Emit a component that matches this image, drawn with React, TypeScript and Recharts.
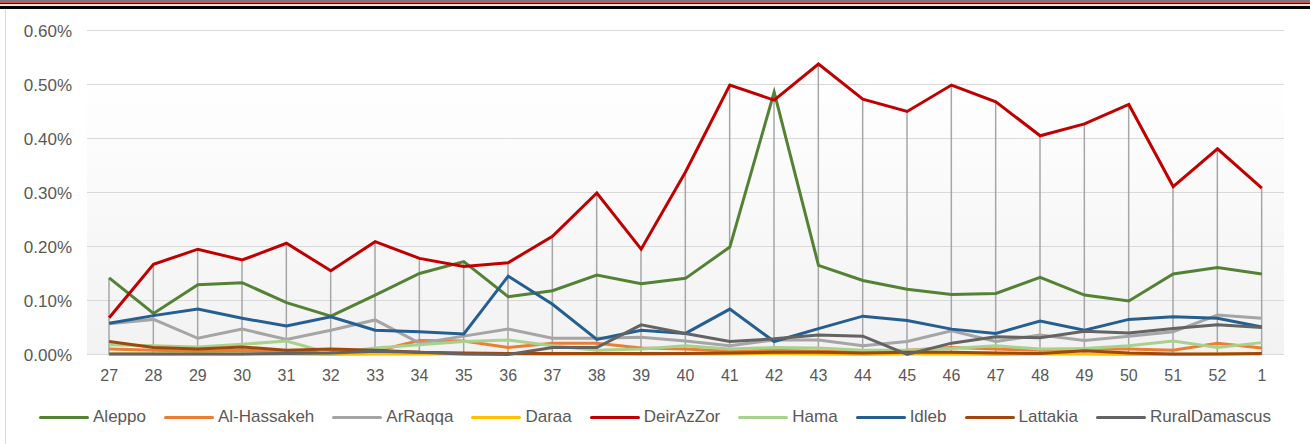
import React from 'react';
import { ComposedChart, Line, Bar, XAxis, YAxis, CartesianGrid } from 'recharts';

const weeks = ['27', '28', '29', '30', '31', '32', '33', '34', '35', '36', '37', '38', '39', '40', '41', '42', '43', '44', '45', '46', '47', '48', '49', '50', '51', '52', '1'];

// values are in percent (0.142 => 0.142%)
const aleppo = [0.142, 0.076, 0.129, 0.133, 0.096, 0.071, 0.110, 0.150, 0.172, 0.107, 0.118, 0.147, 0.131, 0.141, 0.199, 0.486, 0.165, 0.137, 0.121, 0.111, 0.113, 0.143, 0.110, 0.099, 0.149, 0.161, 0.149];
const alHassakeh = [0.010, 0.008, 0.006, 0.008, 0.006, 0.007, 0.006, 0.026, 0.025, 0.013, 0.021, 0.021, 0.012, 0.010, 0.006, 0.008, 0.006, 0.006, 0.008, 0.013, 0.010, 0.008, 0.010, 0.010, 0.008, 0.021, 0.012];
const arRaqqa = [0.057, 0.065, 0.030, 0.047, 0.028, 0.045, 0.064, 0.021, 0.034, 0.047, 0.030, 0.030, 0.032, 0.025, 0.016, 0.027, 0.027, 0.016, 0.024, 0.044, 0.024, 0.036, 0.026, 0.034, 0.042, 0.073, 0.067];
const daraa = [0.001, 0.001, 0.001, 0.001, 0.001, 0.000, 0.001, 0.001, 0.001, 0.001, 0.000, 0.001, 0.000, 0.001, 0.001, 0.002, 0.001, 0.000, 0.001, 0.001, 0.000, 0.001, 0.001, 0.000, 0.000, 0.001, 0.001];
const deirAzZor = [0.068, 0.167, 0.195, 0.175, 0.206, 0.155, 0.209, 0.178, 0.163, 0.170, 0.219, 0.299, 0.195, 0.338, 0.499, 0.471, 0.538, 0.473, 0.450, 0.499, 0.468, 0.405, 0.427, 0.463, 0.311, 0.381, 0.308];
const hama = [0.018, 0.016, 0.014, 0.019, 0.025, 0.002, 0.012, 0.018, 0.024, 0.027, 0.016, 0.008, 0.010, 0.016, 0.010, 0.013, 0.012, 0.008, 0.008, 0.011, 0.016, 0.010, 0.011, 0.016, 0.025, 0.013, 0.022];
const idleb = [0.058, 0.072, 0.084, 0.067, 0.053, 0.070, 0.045, 0.042, 0.038, 0.145, 0.093, 0.028, 0.045, 0.039, 0.084, 0.024, 0.048, 0.071, 0.063, 0.047, 0.039, 0.062, 0.045, 0.065, 0.070, 0.067, 0.051];
const lattakia = [0.024, 0.013, 0.010, 0.014, 0.008, 0.010, 0.008, 0.004, 0.003, 0.002, 0.002, 0.002, 0.002, 0.002, 0.003, 0.004, 0.004, 0.003, 0.004, 0.004, 0.003, 0.002, 0.007, 0.003, 0.001, 0.001, 0.002];
const ruralDamascus = [0.001, 0.001, 0.001, 0.001, 0.002, 0.003, 0.006, 0.004, 0.001, 0.000, 0.013, 0.013, 0.055, 0.039, 0.024, 0.029, 0.036, 0.034, 0.000, 0.021, 0.033, 0.031, 0.043, 0.040, 0.048, 0.055, 0.050];

const yTicks = [0, 0.1, 0.2, 0.3, 0.4, 0.5, 0.6];

const series = [
  { name: 'Aleppo', values: aleppo, color: '#548235' },
  { name: 'Al-Hassakeh', values: alHassakeh, color: '#ED7D31' },
  { name: 'ArRaqqa', values: arRaqqa, color: '#A5A5A5' },
  { name: 'Daraa', values: daraa, color: '#FFC000' },
  { name: 'DeirAzZor', values: deirAzZor, color: '#C00000' },
  { name: 'Hama', values: hama, color: '#A9D18E' },
  { name: 'Idleb', values: idleb, color: '#255E91' },
  { name: 'Lattakia', values: lattakia, color: '#9E480E' },
  { name: 'RuralDamascus', values: ruralDamascus, color: '#636363' },
];

const data = weeks.map((week, i) => {
  const row: Record<string, string | number> = { week };
  let top = 0;
  series.forEach(s => {
    row[s.name] = s.values[i];
    top = Math.max(top, s.values[i]);
  });
  row.top = top;
  return row;
});

const FONT = '"Liberation Sans", Arial, sans-serif';
const TEXT = '#595959';

// excel style drop line: thin vertical from the highest point down to the axis
const DropLine = (props: any) => {
  const { x, y, width, height } = props;
  if (height == null) return null;
  const cx = x + width / 2;
  return <line x1={cx} y1={y} x2={cx} y2={y + height} stroke="#A6A6A6" strokeWidth={1.5} />;
};

export default function App() {
  return (
    <div style={{ position: 'absolute', left: 0, top: 0, width: 1310, height: 444, background: '#fff', fontFamily: FONT, overflow: 'hidden' }}>
      {/* header rules */}
      <div style={{ position: 'absolute', left: 0, top: 0, width: 1310, height: 1, background: '#7a7a7a' }} />
      <div style={{ position: 'absolute', left: 0, top: 1, width: 1310, height: 2, background: '#dd4b4b' }} />
      <div style={{ position: 'absolute', left: 0, top: 3, width: 1310, height: 1, background: '#222' }} />
      <div style={{ position: 'absolute', left: 0, top: 4, width: 1310, height: 2, background: '#eee2e2' }} />
      <div style={{ position: 'absolute', left: 0, top: 6, width: 1310, height: 3, background: '#000' }} />
      <div style={{ position: 'absolute', left: 5, top: 9, width: 1, height: 435, background: '#d9d9d9' }} />

      {/* plot area fill */}
      <div style={{ position: 'absolute', left: 87, top: 73, width: 1197, height: 282, background: 'linear-gradient(#ffffff, #f2f2f2)' }} />

      <div style={{ position: 'absolute', left: 0, top: 0 }}>
        <ComposedChart width={1310} height={444} data={data} margin={{ top: 30.5, right: 26, left: 0, bottom: 59.5 }}>
          <CartesianGrid vertical={false} stroke="#D9D9D9" strokeWidth={1} />
          <XAxis
            dataKey="week"
            height={30}
            axisLine={false}
            tickLine={false}
            tickSize={0}
            tickMargin={15}
            interval={0}
            tick={{ fill: TEXT, fontSize: 16, fontFamily: FONT }}
          />
          <YAxis
            width={87}
            domain={[0, 0.6]}
            ticks={yTicks}
            axisLine={false}
            tickLine={false}
            tickSize={0}
            tickMargin={15}
            tickFormatter={(v: number) => `${v.toFixed(2)}%`}
            tick={{ fill: TEXT, fontSize: 17, fontFamily: FONT }}
          />
          <Bar dataKey="top" barSize={2} shape={DropLine} legendType="none" isAnimationActive={false} />
          {series.map(s => (
            <Line
              key={s.name}
              type="linear"
              dataKey={s.name}
              stroke={s.color}
              strokeWidth={3}
              dot={false}
              activeDot={false}
              isAnimationActive={false}
            />
          ))}
        </ComposedChart>
      </div>

      {/* legend */}
      <div style={{ position: 'absolute', left: 0, top: 406, width: 1310, height: 22, display: 'flex', justifyContent: 'center', alignItems: 'center', gap: 18 }}>
        {series.map(s => (
          <div key={s.name} style={{ display: 'flex', alignItems: 'center' }}>
            <div style={{ width: 50, height: 3, borderRadius: 2, background: s.color, marginRight: 4 }} />
            <span style={{ fontSize: 17, color: TEXT, lineHeight: '22px' }}>{s.name}</span>
          </div>
        ))}
      </div>
    </div>
  );
}
